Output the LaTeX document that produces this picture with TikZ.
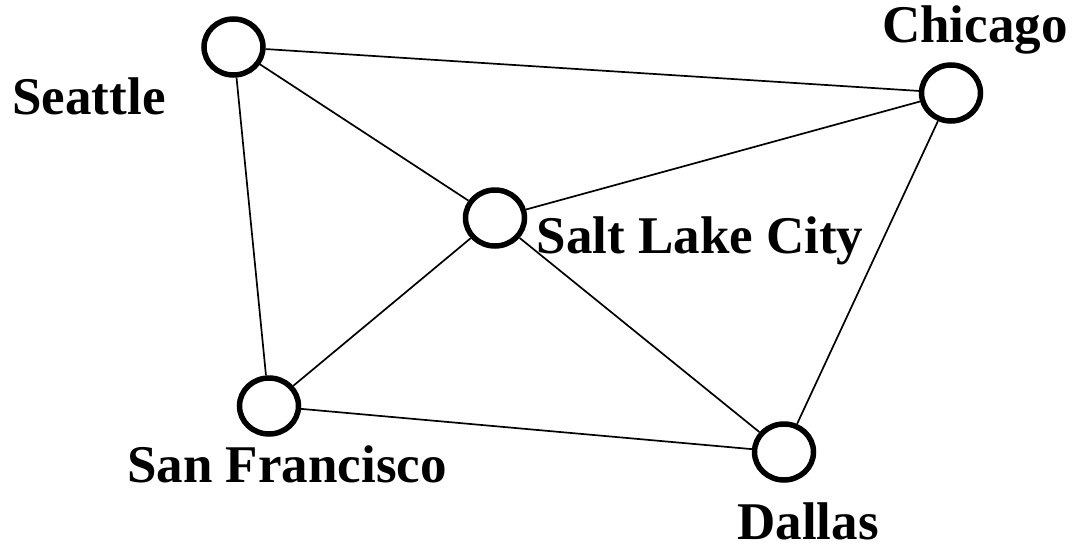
\documentclass[tikz,border=0pt]{standalone}
\usepackage{fontspec}
\setmainfont{Liberation Serif}
\usetikzlibrary{shapes.geometric}
\begin{document}
\begin{tikzpicture}[x=1pt,y=-1pt,
  city/.style={draw,line width=5.5pt,ellipse,minimum width=59pt,minimum height=56pt,inner sep=0pt},
  lbl/.style={font=\fontsize{53}{60}\selectfont\bfseries,anchor=base,inner sep=0pt},
  edge/.style={line width=1.7pt}]
\useasboundingbox (0,0) rectangle (1072,544);
\node[city] (sea) at (233.5,47) {};
\node[city] (chi) at (951,93) {};
\node[city] (slc) at (495,218) {};
\node[city] (sf) at (269,406) {};
\node[city] (dal) at (784,452) {};
\node[lbl] (tsea) at (89,114) {Seattle};
\node[lbl] (tchi) at (975,42) {Chicago};
\node[lbl] (tslc) at (700,253) {Salt Lake City};
\node[lbl] (tsf) at (287,482) {San Francisco};
\node[lbl] (tdal) at (808,539) {Dallas};
\draw[edge] (sea) -- (chi);
\draw[edge] (sea) -- (slc);
\draw[edge] (sea) -- (sf);
\draw[edge] (slc) -- (chi);
\draw[edge] (slc) -- (sf);
\draw[edge] (slc) -- (dal);
\draw[edge] (sf) -- (dal);
\draw[edge] (chi) -- (dal);
\end{tikzpicture}
\end{document}
